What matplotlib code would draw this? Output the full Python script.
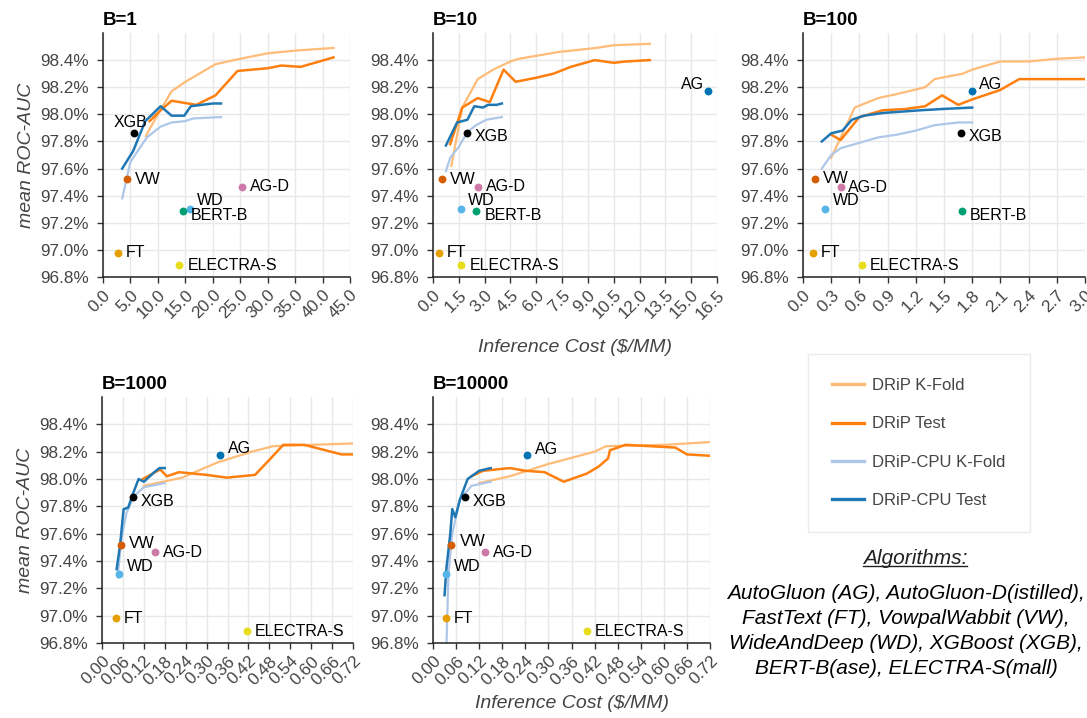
import numpy as np
import matplotlib.pyplot as plt
from matplotlib.ticker import FuncFormatter, MultipleLocator
from matplotlib.lines import Line2D

plt.rcParams['font.family'] = ['Liberation Sans', 'DejaVu Sans']

# ---- data (cost in $/MM, mean ROC-AUC in %) ----
budgets = ['B=1', 'B=10', 'B=100', 'B=1000', 'B=10000']
series_names = ['DRiP K-Fold', 'DRiP Test', 'DRiP-CPU K-Fold', 'DRiP-CPU Test']

algos = ['AG', 'AG-D', 'FT', 'VW', 'WD', 'XGB', 'BERT-B', 'ELECTRA-S']
algo_auc = [98.175, 97.465, 96.98, 97.52, 97.305, 97.865, 97.285, 96.885]

# algorithm costs per budget (None = off the chart)
b1_algo_cost = [None, 25.3, 2.75, 4.4, 15.9, 5.6, 14.5, 13.9]
b10_algo_cost = [15.96, 2.62, 0.33, 0.52, 1.61, 1.98, 2.52, 1.65]
b100_algo_cost = [1.80, 0.40, 0.106, 0.13, 0.23, 1.68, 1.69, 0.63]
b1000_algo_cost = [0.339, 0.152, 0.040, 0.054, 0.048, 0.089, None, 0.415]
b10000_algo_cost = [0.245, 0.134, 0.033, 0.048, 0.033, 0.082, None, 0.399]

# B=1
b1_kfold_cost = [7.8, 10.0, 12.5, 15.0, 20.5, 25.0, 30.0, 35.0, 42.0]
b1_kfold_auc = [97.84, 98.0, 98.17, 98.24, 98.37, 98.41, 98.45, 98.47, 98.49]
b1_test_cost = [8.5, 10.5, 12.5, 17.0, 20.5, 24.5, 30.0, 32.5, 36.0, 42.0]
b1_test_auc = [97.95, 98.03, 98.10, 98.07, 98.14, 98.32, 98.34, 98.36, 98.35, 98.42]
b1_cpu_kfold_cost = [3.5, 5.0, 8.0, 10.5, 12.5, 15.0, 16.5, 21.5]
b1_cpu_kfold_auc = [97.38, 97.65, 97.83, 97.91, 97.94, 97.95, 97.97, 97.98]
b1_cpu_test_cost = [3.5, 5.5, 7.7, 10.5, 12.5, 14.8, 16.0, 20.0, 21.5]
b1_cpu_test_auc = [97.60, 97.73, 97.95, 98.06, 97.99, 97.99, 98.06, 98.08, 98.08]

# B=10
b10_kfold_cost = [1.07, 1.7, 2.6, 3.5, 4.5, 5.0, 7.3, 9.5, 10.5, 12.6]
b10_kfold_auc = [97.62, 98.05, 98.26, 98.33, 98.39, 98.41, 98.46, 98.49, 98.51, 98.52]
b10_test_cost = [1.0, 1.7, 2.6, 3.3, 4.1, 4.8, 6.0, 7.0, 8.0, 9.4, 10.5, 11.2, 12.6]
b10_test_auc = [97.78, 98.05, 98.12, 98.09, 98.33, 98.24, 98.27, 98.30, 98.35, 98.40, 98.38, 98.39, 98.40]
b10_cpu_kfold_cost = [0.75, 1.0, 1.5, 2.0, 2.5, 3.1, 4.0]
b10_cpu_kfold_auc = [97.58, 97.68, 97.76, 97.87, 97.92, 97.96, 97.98]
b10_cpu_test_cost = [0.75, 1.4, 2.0, 2.4, 2.9, 3.2, 3.7, 4.0]
b10_cpu_test_auc = [97.77, 97.94, 97.96, 98.06, 98.05, 98.07, 98.07, 98.08]

# B=100
b100_kfold_cost = [0.3, 0.55, 0.8, 1.0, 1.3, 1.4, 1.7, 1.8, 2.1, 2.4, 2.7, 3.0]
b100_kfold_auc = [97.68, 98.05, 98.12, 98.15, 98.20, 98.26, 98.30, 98.33, 98.39, 98.39, 98.41, 98.42]
b100_test_cost = [0.3, 0.4, 0.6, 0.85, 1.1, 1.3, 1.48, 1.65, 1.8, 2.1, 2.3, 3.0]
b100_test_auc = [97.85, 97.81, 97.98, 98.03, 98.04, 98.06, 98.14, 98.07, 98.11, 98.18, 98.26, 98.26]
b100_cpu_kfold_cost = [0.2, 0.3, 0.4, 0.6, 0.8, 1.0, 1.2, 1.4, 1.65, 1.8]
b100_cpu_kfold_auc = [97.60, 97.70, 97.75, 97.79, 97.83, 97.85, 97.88, 97.92, 97.94, 97.94]
b100_cpu_test_cost = [0.2, 0.3, 0.42, 0.52, 0.65, 0.85, 1.05, 1.25, 1.5, 1.8]
b100_cpu_test_auc = [97.80, 97.86, 97.88, 97.96, 97.99, 98.01, 98.02, 98.03, 98.04, 98.05]

# B=1000
b1000_kfold_cost = [0.12, 0.23, 0.33, 0.43, 0.49, 0.60, 0.72]
b1000_kfold_auc = [97.95, 98.01, 98.12, 98.20, 98.24, 98.25, 98.26]
b1000_test_cost = [0.117, 0.167, 0.186, 0.221, 0.30, 0.358, 0.439, 0.48, 0.52, 0.58, 0.687, 0.72]
b1000_test_auc = [98.00, 98.07, 98.02, 98.05, 98.03, 98.01, 98.03, 98.14, 98.25, 98.25, 98.18, 98.18]
b1000_cpu_kfold_cost = [0.045, 0.055, 0.07, 0.09, 0.12, 0.18]
b1000_cpu_kfold_auc = [97.28, 97.55, 97.75, 97.87, 97.94, 97.97]
b1000_cpu_test_cost = [0.042, 0.052, 0.062, 0.075, 0.09, 0.105, 0.12, 0.15, 0.165, 0.18]
b1000_cpu_test_auc = [97.34, 97.52, 97.78, 97.79, 97.90, 98.00, 97.98, 98.05, 98.08, 98.08]

# B=10000
b10000_kfold_cost = [0.12, 0.20, 0.30, 0.42, 0.45, 0.60, 0.72]
b10000_kfold_auc = [97.97, 98.02, 98.11, 98.20, 98.24, 98.25, 98.27]
b10000_test_cost = [0.10, 0.13, 0.20, 0.24, 0.29, 0.34, 0.40, 0.43, 0.455, 0.46, 0.50, 0.63, 0.66, 0.72]
b10000_test_auc = [98.02, 98.06, 98.08, 98.06, 98.05, 97.98, 98.04, 98.09, 98.15, 98.21, 98.25, 98.23, 98.18, 98.17]
b10000_cpu_kfold_cost = [0.035, 0.04, 0.05, 0.07, 0.10, 0.15]
b10000_cpu_kfold_auc = [96.78, 97.30, 97.60, 97.85, 97.95, 97.98]
b10000_cpu_test_cost = [0.03, 0.035, 0.045, 0.05, 0.058, 0.07, 0.09, 0.12, 0.15]
b10000_cpu_test_auc = [97.15, 97.35, 97.60, 97.78, 97.72, 97.85, 98.00, 98.06, 98.08]

panels = [
    ([(b1_kfold_cost, b1_kfold_auc), (b1_test_cost, b1_test_auc),
      (b1_cpu_kfold_cost, b1_cpu_kfold_auc), (b1_cpu_test_cost, b1_cpu_test_auc)], b1_algo_cost),
    ([(b10_kfold_cost, b10_kfold_auc), (b10_test_cost, b10_test_auc),
      (b10_cpu_kfold_cost, b10_cpu_kfold_auc), (b10_cpu_test_cost, b10_cpu_test_auc)], b10_algo_cost),
    ([(b100_kfold_cost, b100_kfold_auc), (b100_test_cost, b100_test_auc),
      (b100_cpu_kfold_cost, b100_cpu_kfold_auc), (b100_cpu_test_cost, b100_cpu_test_auc)], b100_algo_cost),
    ([(b1000_kfold_cost, b1000_kfold_auc), (b1000_test_cost, b1000_test_auc),
      (b1000_cpu_kfold_cost, b1000_cpu_kfold_auc), (b1000_cpu_test_cost, b1000_cpu_test_auc)], b1000_algo_cost),
    ([(b10000_kfold_cost, b10000_kfold_auc), (b10000_test_cost, b10000_test_auc),
      (b10000_cpu_kfold_cost, b10000_cpu_kfold_auc), (b10000_cpu_test_cost, b10000_cpu_test_auc)], b10000_algo_cost),
]

# ---- style / layout ----
series_colors = ['#ffbb78', '#ff7f0e', '#aec7e8', '#1f77b4']
series_lw = [1.6, 1.8, 1.6, 1.8]
algo_colors = ['#0072B2', '#CC79A7', '#E69F00', '#D55E00', '#56B4E9', '#000000', '#009E73', '#E8DD1A']

xlims = [45, 16.5, 3.0, 0.72, 0.72]
xsteps = [5, 1.5, 0.3, 0.06, 0.06]
xfmts = ['%.1f', '%.1f', '%.1f', '%.2f', '%.2f']

W, H = 1087, 718
rects_px = [(103, 33, 247, 244), (433, 33, 284, 244), (803, 33, 282, 244),
            (102, 397, 251, 246), (433, 397, 277, 246)]

# label offsets (pixels): default right of the point
default_off = (8, 0, 'left')
label_off = [
    {'XGB': (-3, 10, 'center'), 'WD': (7, 8, 'left'), 'BERT-B': (8, -4, 'left')},
    {'AG': (-4, 6, 'right'), 'XGB': (8, -4, 'left'), 'WD': (7, 8, 'left'), 'BERT-B': (8, -4, 'left')},
    {'AG': (7, 6, 'left'), 'XGB': (8, -4, 'left'), 'VW': (8, 1, 'left'), 'AG-D': (7, -1, 'left'),
     'WD': (8, 8, 'left'), 'BERT-B': (8, -4, 'left')},
    {'AG': (8, 7, 'left'), 'XGB': (8, -4, 'left'), 'VW': (8, 1, 'left'), 'WD': (8, 7, 'left')},
    {'AG': (8, 6, 'left'), 'XGB': (8, -4, 'left'), 'VW': (8, 3, 'left'), 'WD': (8, 7, 'left')},
]

fig = plt.figure(figsize=(W / 100, H / 100), dpi=100)

for i, ((lines, costs), rect) in enumerate(zip(panels, rects_px)):
    x0, y0, w, h = rect
    ax = fig.add_axes([x0 / W, 1 - (y0 + h) / H, w / W, h / H])
    for (cx, cy), c, lw in zip(lines, series_colors, series_lw):
        ax.plot(cx, cy, color=c, lw=lw, zorder=2)
    for name, auc, cost, col in zip(algos, algo_auc, costs, algo_colors):
        if cost is None:
            continue
        ax.scatter([cost], [auc], s=32, color=col, zorder=4, linewidths=0)
        dx, dy, ha = label_off[i].get(name, default_off)
        ax.annotate(name, (cost, auc), xytext=(dx, dy), textcoords='offset pixels',
                    ha=ha, va='center', fontsize=11.5, color='black', zorder=5)
    ax.set_xlim(0, xlims[i])
    ax.set_ylim(96.8, 98.6)
    ax.set_yticks(np.arange(96.8, 98.41, 0.2))
    ax.yaxis.set_major_formatter(FuncFormatter(lambda v, p: '%.1f%%' % v))
    ax.xaxis.set_major_locator(MultipleLocator(xsteps[i]))
    ax.xaxis.set_major_formatter(FuncFormatter(lambda v, p, f=xfmts[i]: f % v))
    ax.tick_params(axis='both', labelsize=12.3, labelcolor='#444444', color='#333333',
                   length=4, width=1)
    ax.tick_params(axis='y', pad=6)
    for lab in ax.get_xticklabels():
        lab.set_rotation(45)
        lab.set_ha('right')
        lab.set_rotation_mode('anchor')
    ax.grid(True, color='#e8e8e8', lw=1, zorder=0)
    ax.set_axisbelow(True)
    for s in ['top', 'right']:
        ax.spines[s].set_visible(False)
    for s in ['left', 'bottom']:
        ax.spines[s].set_color('#222222')
        ax.spines[s].set_linewidth(1.1)
    ax.set_title(budgets[i], loc='left', fontsize=13.5, fontweight='bold', pad=6)
    if i in (0, 3):
        ax.set_ylabel('mean ROC-AUC', fontsize=14, style='italic', color='#444444', labelpad=4)

fig.text(575 / W, 1 - 347 / H, 'Inference Cost ($/MM)', ha='center', va='center',
         fontsize=14, style='italic', color='#444444')
fig.text(572 / W, 1 - 703 / H, 'Inference Cost ($/MM)', ha='center', va='center',
         fontsize=14, style='italic', color='#444444')

handles = [Line2D([], [], color=c, lw=2.4) for c in series_colors]
leg = fig.legend(handles, series_names, loc='upper left',
                 bbox_to_anchor=(808 / W, 1 - 354 / H), fontsize=12, frameon=True,
                 fancybox=False, edgecolor='#e6e6e6', labelspacing=1.4, handlelength=1.9,
                 handletextpad=0.5, borderpad=1.45, borderaxespad=0)
leg.get_frame().set_linewidth(1.0)
for t in leg.get_texts():
    t.set_color('#444444')

alg = fig.text(915 / W, 1 - 558 / H, 'Algorithms:', ha='center', va='center',
               fontsize=15, style='italic', color='#222222')
fig.text(906 / W, 1 - 631 / H,
         'AutoGluon (AG), AutoGluon-D(istilled),\nFastText (FT), VowpalWabbit (VW),\n'
         'WideAndDeep (WD), XGBoost (XGB),\nBERT-B(ase), ELECTRA-S(mall)',
         ha='center', va='center', fontsize=15, style='italic', color='black',
         linespacing=1.38)

# underline for "Algorithms:"
fig.canvas.draw()
bb = alg.get_window_extent().transformed(fig.transFigure.inverted())
fig.add_artist(Line2D([bb.x0, bb.x1], [bb.y0 + 0.002, bb.y0 + 0.002],
                      transform=fig.transFigure, color='#222222', lw=1))

fig.savefig('out.png', dpi=100)
